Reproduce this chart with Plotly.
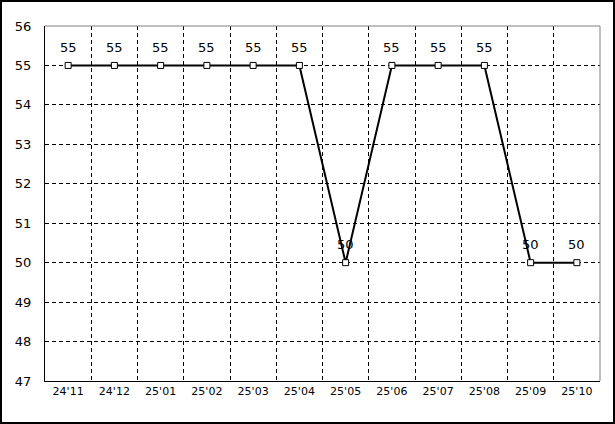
import plotly.graph_objects as go

categories = ["24'11", "24'12", "25'01", "25'02", "25'03", "25'04", "25'05", "25'06", "25'07", "25'08", "25'09", "25'10"]
values = [55, 55, 55, 55, 55, 55, 50, 55, 55, 55, 50, 50]
y_ticks = [47, 48, 49, 50, 51, 52, 53, 54, 55, 56]

W, H = 615, 424
L, R, T, B = 45, 15, 26, 43
pw, ph = W - L - R, H - T - B

xs = list(range(len(categories)))

fig = go.Figure()
fig.add_trace(go.Scatter(
    x=xs, y=values, mode="lines+markers",
    line=dict(color="black", width=2),
    marker=dict(symbol="square", size=6, color="white", line=dict(color="black", width=1)),
    cliponaxis=False, showlegend=False,
))

for xi, v in zip(xs, values):
    fig.add_annotation(x=xi, y=v, text=str(v), showarrow=False, yshift=18,
                       font=dict(family="DejaVu Sans", size=13, color="black"))

def px_to_paper_x(p):
    return (p - L) / pw

def px_to_paper_y(p):
    return (H - B - p) / ph

fig.add_shape(type="rect", xref="paper", yref="paper",
              x0=px_to_paper_x(1), x1=px_to_paper_x(W - 1),
              y0=px_to_paper_y(H - 1), y1=px_to_paper_y(1),
              line=dict(color="black", width=2), layer="above")

fig.update_layout(
    width=W, height=H,
    margin=dict(l=L, r=R, t=T, b=B),
    paper_bgcolor="white", plot_bgcolor="white",
    font=dict(family="DejaVu Sans", color="black"),
    xaxis=dict(
        range=[-0.5, len(categories) - 0.5],
        tickvals=xs, ticktext=categories,
        showgrid=False, zeroline=False,
        showline=True, linecolor="black", linewidth=1, mirror=False,
        ticks="", tickfont=dict(size=11),
        minor=dict(tick0=0.5, dtick=1, showgrid=True, gridcolor="black",
                   griddash="4px,3px", gridwidth=1, ticks=""),
    ),
    yaxis=dict(
        range=[47, 56], tickvals=y_ticks,
        showgrid=True, gridcolor="black", griddash="4px,3px", gridwidth=1,
        zeroline=False, showline=True, linecolor="black", linewidth=1,
        ticks="", tickfont=dict(size=13), ticklabelstandoff=10,
    ),
)

fig.add_shape(type="line", xref="paper", yref="paper", x0=0, x1=1, y0=1, y1=1,
              line=dict(color="gray", width=1))
fig.add_shape(type="line", xref="paper", yref="paper", x0=1, x1=1, y0=0, y1=1,
              line=dict(color="gray", width=1))

fig.write_html("out.html", config={"displayModeBar": False},
               post_script="document.body.style.margin='0';document.body.style.overflow='hidden';")
